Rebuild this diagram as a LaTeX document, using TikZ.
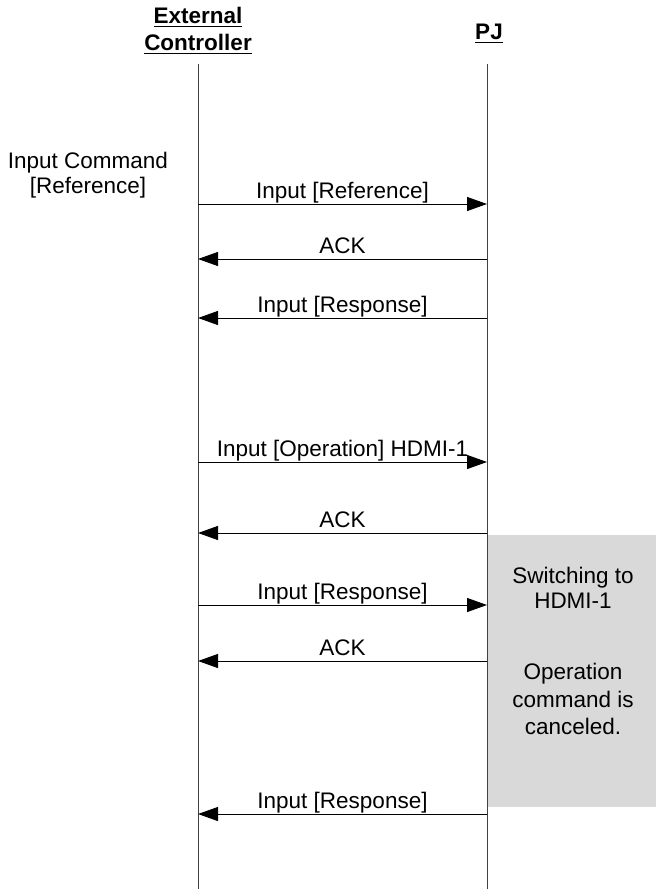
\documentclass[tikz,border=0pt]{standalone}
\usepackage{fontspec}
\setmainfont{Liberation Sans}
\usetikzlibrary{arrows.meta}
\definecolor{boxgray}{HTML}{D9D9D9}

\begin{document}
\begin{tikzpicture}[x=0.5pt,y=-0.5pt,
        every node/.style={font=\fontsize{11.25}{12.5}\selectfont},
        head/.style={font=\fontsize{11.25}{13.5}\selectfont\bfseries, align=center},
        lifeline/.style={draw=black!75, line width=0.5pt},
        msg/.style={line width=0.5pt, -{Triangle[length=10pt,width=7pt]}},
        msglabel/.style={anchor=base, yshift=3pt}]
        \useasboundingbox (0,0) rectangle (656,889);

        % busy box on the PJ side
        \fill[boxgray] (487,535) rectangle (656,807);
        \node[align=center] (switching) at (573,588) {Switching to\\HDMI-1};
        \node[align=center, font=\fontsize{11.25}{13.75}\selectfont] (canceled) at (573,699) {Operation\\command is\\canceled.};

        % heads and lifelines
        \node[head] (ec) at (198,31) {\underline{External}\\\underline{Controller}};
        \node[head] (pj) at (489,34) {\underline{PJ}};
        \coordinate (ectop) at (198,64);
        \coordinate (ecbot) at (198,889);
        \coordinate (pjtop) at (487,64);
        \coordinate (pjbot) at (487,889);
        \draw[lifeline] (ectop) -- (ecbot);
        \draw[lifeline] (pjtop) -- (pjbot);

        \node[align=center] (cmd) at (88,175) {Input Command\\{}[Reference]};

        % messages
        \foreach \n/\y/\a/\b/\t in
        {1/204/ec/pj/Input [Reference],
            2/259/pj/ec/ACK,
            3/318/pj/ec/Input [Response],
            4/462/ec/pj/Input [Operation] HDMI-1,
            5/533/pj/ec/ACK,
            6/605/ec/pj/Input [Response],
            7/661/pj/ec/ACK,
            8/814/pj/ec/Input [Response]
        }
        {
            \coordinate (ec\n) at (198,\y);
            \coordinate (pj\n) at (487,\y);
            \draw[msg] (\a\n) -- node[msglabel] {\t} (\b\n);
        };
\end{tikzpicture}
\end{document}
